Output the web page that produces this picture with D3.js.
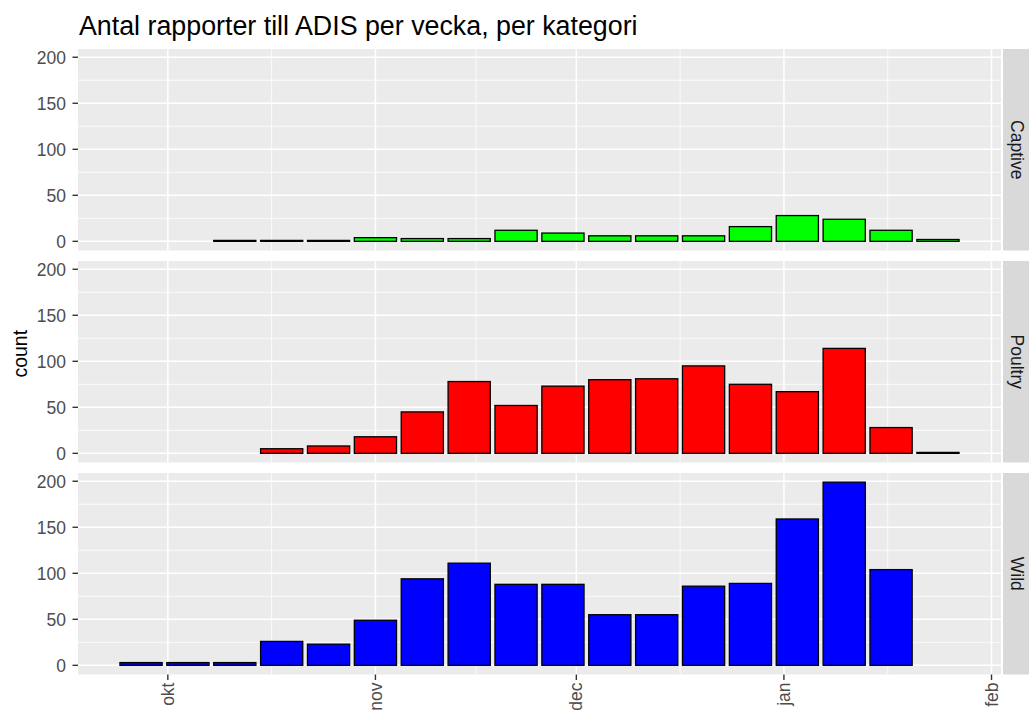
<!DOCTYPE html>
<html>
<head>
<meta charset="utf-8">
<script src="https://cdn.jsdelivr.net/npm/d3@7"></script>
<style>
  html, body { margin: 0; padding: 0; background: #ffffff; }
  svg { display: block; font-family: "Liberation Sans", Arial, sans-serif; }
</style>
</head>
<body>
<svg id="chart" width="1029" height="711"></svg>
<script>
// ---- data ----
const weeks = ["2020-09-27","2020-10-04","2020-10-11","2020-10-18","2020-10-25","2020-11-01",
               "2020-11-08","2020-11-15","2020-11-22","2020-11-29","2020-12-06","2020-12-13",
               "2020-12-20","2020-12-27","2021-01-03","2021-01-10","2021-01-17","2021-01-24"];
const categories = ["Captive", "Poultry", "Wild"];
const captive = [null, null, 1, 1, 1, 4, 3, 3, 12, 9, 6, 6, 6, 16, 28, 24, 12, 2];
const poultry = [null, null, null, 5, 8, 18, 45, 78, 52, 73, 80, 81, 95, 75, 67, 114, 28, 1];
const wild    = [3, 3, 3, 26, 23, 49, 94, 111, 88, 88, 55, 55, 86, 89, 159, 199, 104, null];
const colors  = ["#00FF00", "#FF0000", "#0000FF"];
const yTicks  = [0, 50, 100, 150, 200];
const yMinor  = [25, 75, 125, 175];
const monthLabels = ["okt", "nov", "dec", "jan", "feb"];
const titleText = "Antal rapporter till ADIS per vecka, per kategori";
const yTitle = "count";

// ---- layout ----
const svg = d3.select("#chart");
const L = 78, R = 1001;
const panelTop = 49, panelH = 201.5, panelGap = 10.5;
const stripX = 1003, stripW = 30;
const DAY = 86400000;
const parse = d3.utcParse("%Y-%m-%d");
const dates = weeks.map(parse);
const half = 0.45 * 7 * DAY;

const series = [captive, poultry, wild];

// x scale (ggplot-like 5% expansion)
const lo = +dates[0] - half, hi = +dates[dates.length - 1] + half;
const xpad = (hi - lo) * 0.05;
const x = d3.scaleUtc().domain([new Date(lo - xpad), new Date(hi + xpad)]).range([L, R]);

// y scale shared
const ymax = d3.max(series.flat().filter(v => v != null));
const ypad = ymax * 0.05;

const majorX = x.ticks(d3.utcMonth.every(1)).filter(d => x(d) >= L && x(d) <= R);
const minorX = [];
for (let i = 0; i < majorX.length - 1; i++) {
  minorX.push(new Date((+majorX[i] + +majorX[i + 1]) / 2));
}

// title
svg.append("text")
  .attr("x", L + 1).attr("y", 35)
  .attr("font-size", 26.8).attr("fill", "#000")
  .text(titleText);

categories.forEach((cat, i) => {
  const top = panelTop + i * (panelH + panelGap);
  const y = d3.scaleLinear().domain([-ypad, ymax + ypad]).range([top + panelH, top]);
  const g = svg.append("g");

  g.append("rect").attr("x", L).attr("y", top).attr("width", R - L).attr("height", panelH)
    .attr("fill", "#EBEBEB");

  // minor grid
  g.selectAll(".ymin").data(yMinor).join("line")
    .attr("x1", L).attr("x2", R).attr("y1", d => y(d)).attr("y2", d => y(d))
    .attr("stroke", "#FFFFFF").attr("stroke-width", 0.8);
  g.selectAll(".xmin").data(minorX).join("line")
    .attr("y1", top).attr("y2", top + panelH).attr("x1", d => x(d)).attr("x2", d => x(d))
    .attr("stroke", "#FFFFFF").attr("stroke-width", 0.8);
  // major grid
  g.selectAll(".ymaj").data(yTicks).join("line")
    .attr("x1", L).attr("x2", R).attr("y1", d => y(d)).attr("y2", d => y(d))
    .attr("stroke", "#FFFFFF").attr("stroke-width", 1.5);
  g.selectAll(".xmaj").data(majorX).join("line")
    .attr("y1", top).attr("y2", top + panelH).attr("x1", d => x(d)).attr("x2", d => x(d))
    .attr("stroke", "#FFFFFF").attr("stroke-width", 1.5);

  // bars
  const data = dates.map((d, k) => ({ d, v: series[i][k] })).filter(o => o.v != null);
  g.selectAll(".bar").data(data).join("rect")
    .attr("x", o => x(new Date(+o.d - half)))
    .attr("width", o => x(new Date(+o.d + half)) - x(new Date(+o.d - half)))
    .attr("y", o => y(o.v))
    .attr("height", o => y(0) - y(o.v))
    .attr("fill", colors[i])
    .attr("stroke", "#000").attr("stroke-width", 1.3);

  // y axis ticks + labels
  g.selectAll(".yt").data(yTicks).join("line")
    .attr("x1", L - 5.5).attr("x2", L).attr("y1", d => y(d)).attr("y2", d => y(d))
    .attr("stroke", "#333333").attr("stroke-width", 1.4);
  g.selectAll(".yl").data(yTicks).join("text")
    .attr("x", L - 12).attr("y", d => y(d)).attr("dy", "0.36em")
    .attr("text-anchor", "end").attr("font-size", 17.5).attr("fill", "#4D4D4D")
    .text(d => d);

  // strip
  g.append("rect").attr("x", stripX).attr("y", top).attr("width", stripW).attr("height", panelH)
    .attr("fill", "#D9D9D9");
  g.append("text")
    .attr("transform", `translate(${stripX + 14},${top + panelH / 2}) rotate(90)`)
    .attr("text-anchor", "middle").attr("dy", "0.35em")
    .attr("font-size", 17.5).attr("fill", "#1A1A1A")
    .text(cat);

  // x axis on last panel
  if (i === categories.length - 1) {
    const bottom = top + panelH;
    g.selectAll(".xt").data(majorX).join("line")
      .attr("x1", d => x(d)).attr("x2", d => x(d)).attr("y1", bottom).attr("y2", bottom + 5.5)
      .attr("stroke", "#333333").attr("stroke-width", 1.4);
    g.selectAll(".xl").data(majorX).join("text")
      .attr("transform", d => `translate(${x(d)},${bottom + 8}) rotate(-90)`)
      .attr("text-anchor", "end").attr("dy", "0.35em")
      .attr("font-size", 17.5).attr("fill", "#4D4D4D")
      .text((d, k) => monthLabels[k]);
  }
});

// y axis title
const midY = panelTop + (3 * panelH + 2 * panelGap) / 2;
svg.append("text")
  .attr("transform", `translate(27,${midY - 8}) rotate(-90)`)
  .attr("text-anchor", "middle")
  .attr("font-size", 19.5).attr("fill", "#000")
  .text(yTitle);
</script>
</body>
</html>
